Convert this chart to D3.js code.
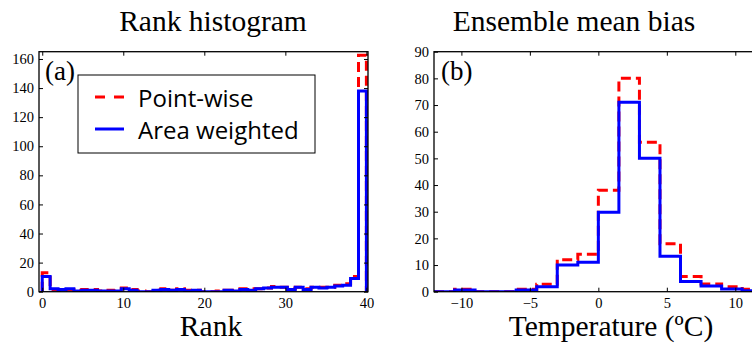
<!DOCTYPE html>
<html>
<head>
<meta charset="utf-8">
<script src="https://cdn.jsdelivr.net/npm/d3@7/dist/d3.min.js"></script>
<style>
  html, body { margin: 0; padding: 0; background: #fff; }
  svg { display: block; }
</style>
</head>
<body>
<svg id="chart" width="752" height="346"></svg>
<script>
// ---------------- DATA ----------------
// Panel (a): rank histogram, 41 bins spanning ranks 0..40
const rankCount = 41;
const rankRange = [0, 40];
const rankPointWise = [13, 1.5, 1, 1.5, 1, 1.5, 1.5, 0.5, 1, 0.5, 2.5, 1.5, 0.5, 0, 1, 2, 1, 2, 1, 1,
                       0, 0, 0.5, 1, 1, 2, 2, 2, 2.5, 3.5, 3, 2, 3, 2, 3, 3, 3, 4.5, 5.5, 10.5, 162.5];
const rankAreaWeighted = [10.5, 2, 1.5, 2, 0.5, 1, 1, 0.5, 0.5, 0.5, 2, 1, 0, 0, 1, 1.5, 1, 1.5, 0.5, 1,
                          0, 0, 0, 1, 0.5, 1.5, 1, 2, 2.5, 3, 3, 1.5, 3, 1.5, 3, 2.5, 3, 4, 4.5, 9, 138];
const rankXTicks = [0, 10, 20, 30, 40];
const rankYTicks = [0, 20, 40, 60, 80, 100, 120, 140, 160];

// Panel (b): ensemble mean bias, bins of 1.5 degC
const tempEdges = [-12, -10.5, -9, -7.5, -6, -4.5, -3, -1.5, 0, 1.5, 3, 4.5, 6, 7.5, 9, 10.5, 12];
const tempPointWise = [0, 0.9, 0, 0, 0.9, 2.8, 12, 14, 38, 80, 56, 18, 5.7, 2.9, 1.9, 0.9];
const tempAreaWeighted = [0, 0.6, 0, 0, 0.6, 1.9, 10, 11, 29.8, 71, 50, 13.3, 3.8, 2.1, 1, 0.4];
const tempXTicks = [-10, -5, 0, 5, 10];
const tempYTicks = [0, 10, 20, 30, 40, 50, 60, 70, 80, 90];

const seriesNames = ["Point-wise", "Area weighted"];
const seriesColors = ["#ff0000", "#0000ff"];

// ---------------- DRAW ----------------
const svg = d3.select("#chart");
const serif = "'Liberation Serif', 'Times New Roman', serif";
const sans = "'Open Sans', 'Noto Sans', sans-serif";

const rankEdges = d3.range(rankCount + 1).map(i => rankRange[0] + i * (rankRange[1] - rankRange[0]) / rankCount);

function stepPoints(edges, values) {
  const pts = [[edges[0], 0]];
  values.forEach((v, i) => { pts.push([edges[i], v]); pts.push([edges[i + 1], v]); });
  pts.push([edges[edges.length - 1], 0]);
  return pts;
}

function panel(opts) {
  const g = svg.append("g");
  const x = d3.scaleLinear().domain(opts.xDomain).range(opts.xRange);
  const y = d3.scaleLinear().domain(opts.yDomain).range(opts.yRange);
  const [x0, x1] = opts.xRange, [yb, yt] = opts.yRange;

  const clipId = "clip" + opts.id;
  svg.append("clipPath").attr("id", clipId).append("rect")
    .attr("x", x0).attr("y", yt).attr("width", x1 - x0).attr("height", yb - yt);

  const line = d3.line().x(d => x(d[0])).y(d => y(d[1]));
  const plot = g.append("g").attr("clip-path", `url(#${clipId})`);
  opts.series.forEach((vals, i) => {
    plot.append("path")
      .attr("d", line(stepPoints(opts.edges, vals)))
      .attr("fill", "none")
      .attr("stroke", seriesColors[i])
      .attr("stroke-width", 3)
      .attr("stroke-linejoin", "miter")
      .attr("stroke-dasharray", i === 0 ? "10,5" : null);
  });

  const styleAxis = sel => {
    sel.select(".domain").remove();
    sel.selectAll(".tick line").attr("stroke", "#000").attr("stroke-width", 1);
    sel.selectAll(".tick text").attr("font-family", serif).attr("font-size", 14.5).attr("fill", "#000");
  };

  g.append("g").attr("transform", `translate(0,${yb})`)
    .call(d3.axisBottom(x).tickValues(opts.xTicks).tickSize(-4).tickPadding(6).tickFormat(d3.format("d")))
    .call(styleAxis);
  g.append("g").attr("transform", `translate(0,${yt})`)
    .call(d3.axisTop(x).tickValues(opts.xTicks).tickSize(-4).tickFormat(""))
    .call(styleAxis);
  g.append("g").attr("transform", `translate(${x0},0)`)
    .call(d3.axisLeft(y).tickValues(opts.yTicks).tickSize(-4).tickPadding(5))
    .call(styleAxis);
  g.append("g").attr("transform", `translate(${x1},0)`)
    .call(d3.axisRight(y).tickValues(opts.yTicks).tickSize(-4).tickFormat(""))
    .call(styleAxis);

  g.append("rect").attr("x", x0).attr("y", yt).attr("width", x1 - x0).attr("height", yb - yt)
    .attr("fill", "none").attr("stroke", "#000").attr("stroke-width", 1.3);

  g.append("text").attr("x", opts.tagX).attr("y", 80).text(opts.tag)
    .attr("font-family", serif).attr("font-size", 27).attr("fill", "#000");

  svg.append("text").attr("x", opts.titleX).attr("y", 31).attr("text-anchor", "middle")
    .attr("font-family", serif).attr("font-size", 29.5).attr("fill", "#000").text(opts.title);
  svg.append("text").attr("x", opts.labelX).attr("y", 336).attr("text-anchor", "middle")
    .attr("font-family", serif).attr("font-size", 29.5).attr("fill", "#000").text(opts.label);
  return g;
}

const ga = panel({
  id: "a", xDomain: [-0.4, 40.2], xRange: [39, 368], yDomain: [0, 165], yRange: [291.7, 51.7],
  edges: rankEdges, series: [rankPointWise, rankAreaWeighted],
  xTicks: rankXTicks, yTicks: rankYTicks, tag: "(a)", tagX: 45,
  title: "Rank histogram", titleX: 213, label: "Rank", labelX: 211
});

panel({
  id: "b", xDomain: [-12, 12], xRange: [434, 762.7], yDomain: [0, 90], yRange: [291.7, 51.7],
  edges: tempEdges, series: [tempPointWise, tempAreaWeighted],
  xTicks: tempXTicks, yTicks: tempYTicks, tag: "(b)", tagX: 441,
  title: "Ensemble mean bias", titleX: 574, label: "Temperature (ºC)", labelX: 611
});

// Legend in panel (a)
const lg = ga.append("g");
lg.append("rect").attr("x", 78).attr("y", 75).attr("width", 237).attr("height", 78)
  .attr("fill", "#fff").attr("stroke", "#000").attr("stroke-width", 1);
seriesNames.forEach((name, i) => {
  const yy = 97 + i * 32;
  lg.append("line").attr("x1", 95).attr("x2", 124).attr("y1", yy).attr("y2", yy)
    .attr("stroke", seriesColors[i]).attr("stroke-width", 3)
    .attr("stroke-dasharray", i === 0 ? "10,9" : null);
  lg.append("text").attr("x", 138).attr("y", yy + 9.5).text(name)
    .attr("font-family", sans).attr("font-size", 24).attr("font-weight", 400).attr("fill", "#000");
});
</script>
</body>
</html>
